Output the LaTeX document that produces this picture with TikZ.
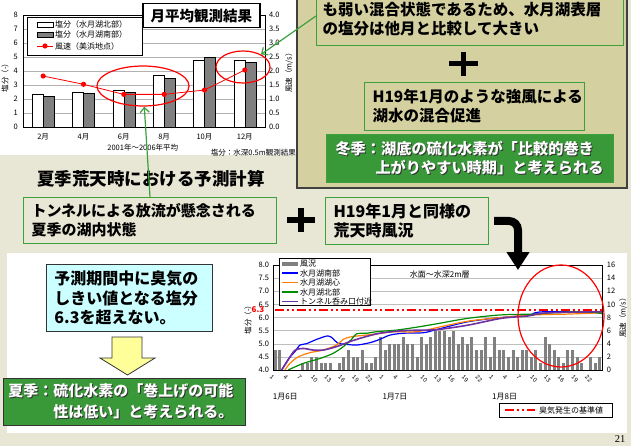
\documentclass[tikz,border=0pt]{standalone}
\usepackage{fontspec}
\setmainfont{Noto Sans CJK JP}
\newfontfamily\pagenofont{Liberation Serif}
\newfontfamily\tickfont{Liberation Sans}
\usetikzlibrary{arrows.meta,shapes.geometric}

\definecolor{slidebg}{RGB}{232,230,212}
\definecolor{panelbg}{RGB}{212,208,160}
\definecolor{boxgreen}{RGB}{60,160,60}
\definecolor{darkgreen}{RGB}{57,153,57}
\definecolor{lightcyan}{RGB}{204,255,255}
\definecolor{lightyellow}{RGB}{255,255,153}
\definecolor{bargray}{RGB}{128,128,128}
\definecolor{lineblue}{RGB}{0,0,255}
\definecolor{lineorange}{RGB}{255,128,0}
\definecolor{linegreen}{RGB}{0,140,0}
\definecolor{linepurple}{RGB}{112,48,160}

\newcommand\shadowtext[1]{\leavevmode\rlap{\hspace{1pt}\raisebox{-1pt}{\color{black!80}#1}}{\color{white}#1}}

\tikzset{
  greenbox/.style={draw=boxgreen, line width=1pt, anchor=north west, align=left,
    inner ysep=0pt, font=\bfseries\fontsize{15.5}{19}\selectfont},
  darkbox/.style={draw=gray!40!black, line width=0.8pt, anchor=north west, align=left,
    inner ysep=0pt, font=\bfseries\fontsize{15}{21}\selectfont},
  chartlabel/.style={font=\fontsize{7.5}{8}\selectfont, inner sep=1pt},
  legendlabel/.style={font=\fontsize{8}{9}\selectfont, inner sep=1pt, anchor=west},
  hourlabel/.style={rotate=-45, anchor=west, inner sep=0pt, font=\tickfont\fontsize{6}{6}\selectfont},
  callout/.style={-{Straight Barb[length=5pt,width=9pt]}, draw=boxgreen, line width=1.2pt},
  redring/.style={ellipse, draw=red, line width=1.2pt, inner sep=0pt},
}

\begin{document}
\begin{tikzpicture}[x=1pt,y=-1pt]
  \useasboundingbox (0,0) rectangle (631,446);

  % background and panels
  \fill[slidebg] (0,0) rectangle (631,446);
  \fill[white] (0,0) rectangle (296,155);
  \fill[white] (7,253) rectangle (627,433);
  \draw[fill=panelbg, draw=gray!50!black, line width=1.5pt] (297,-5) rectangle (627,188);

  % winter side
  \node[greenbox, fill=panelbg, text width=295pt, inner xsep=6pt, minimum height=59pt] (mixbox) at (316,-14)
    {\mbox{}\\も弱い混合状態であるため、水月湖表層\\の塩分は他月と比較して大きい};
  \draw[line width=5.5pt] (449,63.5) -- (478,63.5) (463.5,52) -- (463.5,76);
  \node[greenbox, fill=panelbg, text width=204pt, inner xsep=8pt, minimum height=48pt] (windbox) at (364,82)
    {H19年1月のような強風による\\湖水の混合促進};
  \node[greenbox, fill=darkgreen, text width=269pt, inner xsep=9pt, minimum height=48pt,
    font=\bfseries\fontsize{15.2}{19}\selectfont] (winterbox) at (326,134)
    {\shadowtext{冬季：湖底の硫化水素が「比較的巻き}\\\hspace*{40pt}\shadowtext{上がりやすい時期」と考えられる}};

  % summer side
  \node[font=\bfseries\fontsize{17.5}{20}\selectfont] (summertitle) at (151,179) {夏季荒天時における予測計算};
  \node[greenbox, fill=slidebg, text width=237pt, inner xsep=8pt, minimum height=46pt,
    font=\bfseries\fontsize{15}{19}\selectfont] (tunnelbox) at (23,197)
    {トンネルによる放流が懸念される\\夏季の湖内状態};
  \draw[line width=5.5pt] (287,220) -- (315,220) (301,208) -- (301,232);
  \node[greenbox, fill=slidebg, text width=147pt, inner xsep=8pt, minimum height=47pt,
    font=\bfseries\fontsize{16}{19}\selectfont] (stormbox) at (325,197)
    {H19年1月と同様の\\荒天時風況};
  \coordinate (bendtip) at (518,270);

  \node[darkbox, fill=lightcyan, text width=150pt, inner xsep=8pt, minimum height=67pt,
    font=\bfseries\fontsize{16}{19.5}\selectfont] (limitbox) at (46,264)
    {予測期間中に臭気の\\しきい値となる塩分\\6.3を超えない。};
  \draw[fill=lightyellow, draw=gray!40!black, line width=0.8pt]
    (112,337) -- (142,337) -- (142,358) -- (155,358) -- (127.5,375) -- (100,358) -- (112,358) -- cycle;
  \node[darkbox, fill=darkgreen, text width=232pt, inner xsep=5pt, minimum height=47pt] (summerbox) at (3,378)
    {\shadowtext{夏季：硫化水素の「巻上げの可能}\\\hspace*{45pt}\shadowtext{性は低い」と考えられる。}};

  % monthly chart
  \begin{scope}[shift={(23pt,-127pt)}, x=40.33pt, y=14pt]
    \foreach \k in {1,...,7}
      \draw[gray!60] (0,\k) -- (6,\k);
    \foreach \i/\n/\s in {0/2.35/2.17, 1/2.52/2.4, 2/2.64/2.45, 3/3.69/3.52, 4/4.79/5.02, 5/4.74/4.62} {
      \draw[fill=white] (\i+0.23,0) rectangle (\i+0.5,\n);
      \draw[fill=bargray] (\i+0.5,0) rectangle (\i+0.77,\s);
    }
    \draw[red, line width=0.8pt] (0.5,3.64) -- (1.5,3.05) -- (2.5,2.33) -- (3.5,2.33) -- (4.5,2.64) -- (5.5,4.07);
    \foreach \i/\w in {0/3.64, 1/3.05, 2/2.33, 3/2.33, 4/2.64, 5/4.07}
      \fill[red] (\i+0.5,\w) circle (2.6pt);
    \draw (0,0) rectangle (6,8);
    \foreach \k in {0,...,8}
      \node[chartlabel, anchor=east] (sl\k) at (-0.1,\k) {\k};
    \foreach \k/\l in {0/0.0, 1/0.5, 2/1.0, 3/1.5, 4/2.0, 5/2.5, 6/3.0, 7/3.5, 8/4.0}
      \node[chartlabel, anchor=west] (ws\k) at (6.07,\k) {\l};
    \foreach \i/\m in {0/2月, 1/4月, 2/6月, 3/8月, 4/10月, 5/12月}
      \node[chartlabel] (mon\i) at (\i+0.5,-0.7) {\m};
    \node[chartlabel] (period) at (2.97,-1.5) {2001年～2006年平均};
  \end{scope}
  \node[chartlabel, anchor=east] (depthnote) at (297,153) {塩分：水深0.5m観測結果};
  \node[chartlabel, rotate=90] (saltaxis) at (5,76) {塩分（-）};
  \node[chartlabel, rotate=90] (windaxis) at (289,71) {風速（m/s）};

  \node[draw, fill=white, anchor=north west, minimum width=115pt, minimum height=38pt, inner sep=0pt] (monlegend) at (27,17) {};
  \draw[fill=white] (37,22) rectangle (53,27);
  \draw[fill=bargray] (37,32) rectangle (53,37);
  \draw[red, line width=0.8pt] (37,46) -- (53,46);
  \fill[red] (45,46) circle (2.6pt);
  \node[legendlabel] (legnorth) at (54,24.5) {塩分（水月湖北部）};
  \node[legendlabel] (legsouth) at (54,34.5) {塩分（水月湖南部）};
  \node[legendlabel] (legwind) at (54,46) {風速（美浜地点）};

  \node[draw, line width=1.5pt, fill=white, font=\bfseries\fontsize{14.5}{16}\selectfont,
    minimum width=117pt, minimum height=24pt, anchor=north west, inner sep=0pt] (charttitle) at (142,3) {月平均観測結果};

  \node[redring, minimum width=92pt, minimum height=40pt] (summerring) at (143,86) {};
  \node[redring, minimum width=54pt, minimum height=32pt] (winterring) at (243,67) {};

  % forecast chart
  \begin{scope}[shift={(273pt,-475pt)}, x=4.57pt, y=26.25pt]
    \foreach \v in {4.5,5.0,...,8.0}
      \draw[gray!50] (0,\v) -- (72,\v);
    \foreach \w [count=\t from 0] in {3,3,0,0,0,0,1,1,2,2, 1,1,1,0,1,2,3,2,2,3, 1,1,2,5,3,4,4,4,5,4,
        4,2,5,4,5,6,6,6,5,6, 4,5,4,5,3,3,5,2,5,3, 3,2,3,2,3,3,2,3,1,5, 4,3,2,1,3,3,2,1,0,2, 1,2}
      \fill[bargray] (\t+0.2,4) rectangle (\t+0.85,4+\w/4);
    \draw[lineblue, line width=1.2pt] plot[smooth, tension=0.5] coordinates {(1.9,4.0) (3.5,4.45) (4.8,4.7) (5.9,4.95)
      (7.3,5.0) (9.6,5.17) (12,5.3) (13.1,5.2) (14.2,5.02) (16,4.98) (18.3,4.95) (21.2,5.04) (23.4,5.17) (25.6,5.33)
      (28.5,5.4) (32.9,5.42) (36,5.55) (42.7,5.84) (50,6.0) (55.8,6.08) (57.3,6.18) (59.5,6.22) (66,6.22) (72,6.18)};
    \draw[lineorange, line width=1.2pt] plot[smooth, tension=0.5] coordinates {(2.6,4.0) (3.7,4.25) (5.5,4.5) (8.1,4.66)
      (11,4.76) (13.9,4.95) (15.4,5.17) (17.2,5.27) (20.5,5.33) (23.4,5.4) (27,5.46) (30.7,5.45) (33.6,5.52) (36,5.62)
      (42.7,5.86) (50,6.0) (57.3,6.1) (64.6,6.13) (72,6.18)};
    \draw[linegreen, line width=1.2pt] plot[smooth, tension=0.5] coordinates {(3.3,4.0) (6.6,4.25) (10.3,4.44) (13.1,4.63)
      (15.4,4.89) (17.2,5.17) (18.3,5.38) (20.5,5.4) (22.7,5.46) (27,5.52) (31.4,5.63) (35.8,5.76) (42.7,5.97) (50,6.1)
      (57.3,6.13) (61,6.18) (68.3,6.22) (72,6.15)};
    \draw[linepurple, line width=1.6pt] plot[smooth, tension=0.5] coordinates {(1.9,4.0) (3.3,4.38) (4.8,4.75) (6.6,4.82)
      (8.8,4.76) (11,4.76) (13.9,4.89) (16.8,5.08) (19.7,5.24) (23.4,5.4) (28.5,5.5) (33.6,5.52) (36.5,5.55) (42.7,5.71)
      (50,5.97) (55.8,6.06) (58.7,6.16) (64.6,6.2) (72,6.22)};
    \draw[red, line width=2pt, dash pattern=on 9pt off 3pt on 2pt off 3pt on 2pt off 3pt] (0.4,6.3) -- (72,6.3);
    \draw (0,4) rectangle (72,8);
    \foreach \v in {4.0,4.5,5.0,5.5,6.0,6.5,7.0,7.5,8.0}
      \node[chartlabel, anchor=east] (sv\v) at (-0.6,\v) {\v};
    \foreach \w in {0,2,...,16}
      \node[chartlabel, anchor=west] (wv\w) at (72.8,4+\w/4) {\w};
    \foreach \d/\day in {0/1月6日, 1/1月7日, 2/1月8日} {
      \foreach \h [count=\j from 0] in {1,4,7,10,13,16,19,22}
        \node[hourlabel] (hr\d-\j) at (24*\d+3*\j-0.5,3.76) {\h};
      \node[legendlabel] (day\d) at (24*\d-0.3,2.98) {\day};
    }
    \node[text=red, font=\bfseries\fontsize{8}{9}\selectfont, inner sep=0pt] (limitval) at (-3.3,6.3) {6.3};
    \node[font=\fontsize{8}{9}\selectfont] (layer) at (36.5,7.65) {水面～水深2m層};
  \end{scope}
  \node[chartlabel, rotate=90] (saltaxis2) at (248,318) {塩分（-）};
  \node[chartlabel, rotate=90] (windaxis2) at (623,316) {風速（m/s）};

  \node[draw, fill=white, anchor=north west, minimum width=91pt, minimum height=47pt, inner sep=0pt] (hourlegend) at (279,258) {};
  \fill[bargray] (282,261.5) rectangle (298,266);
  \node[legendlabel] (legbar) at (299,263.5) {風況};
  \foreach \c/\y/\n in {lineblue/273/水月湖南部, lineorange/282.5/水月湖湖心, linegreen/292/水月湖北部, linepurple/301.5/トンネル呑み口付近} {
    \draw[\c, line width=1.5pt] (282,\y) -- (298,\y);
    \node[legendlabel] (leg\y) at (299,\y) {\n};
  }
  \node[draw, fill=white, anchor=north west, minimum width=113pt, minimum height=14pt, inner sep=0pt] (reflegend) at (499,403) {};
  \draw[red, line width=2pt, dash pattern=on 9pt off 3pt on 2pt off 3pt on 2pt off 3pt] (505,410) -- (535,410);
  \node[legendlabel] (reftext) at (538,410) {臭気発生の基準値};

  \draw[red, line width=1.2pt] (561,316) ellipse [x radius=43pt, y radius=51pt];

  % connectors
  \draw[callout] (mixbox.west) -- (winterring);
  \draw[callout] (tunnelbox.north) -- (summerring);
  \draw[line width=8pt, rounded corners=9pt, -{Triangle[length=18pt,width=22pt]}] ([xshift=5pt]stormbox.east) -| (bendtip);

  \node[font=\pagenofont\fontsize{10.5}{12}\selectfont] (pageno) at (620,439) {21};
\end{tikzpicture}
\end{document}
